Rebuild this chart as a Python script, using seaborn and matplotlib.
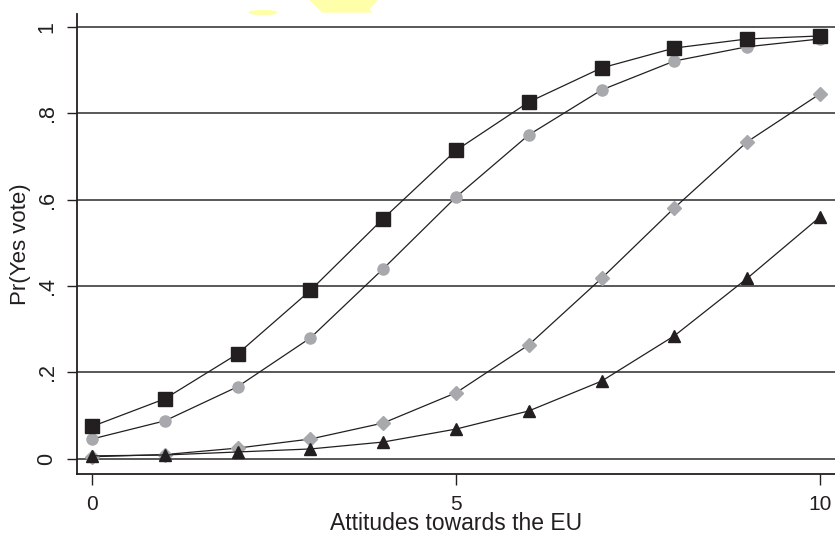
import numpy as np
import pandas as pd
import seaborn as sns
import matplotlib.pyplot as plt
from matplotlib.patches import Polygon, Ellipse

# attitude scale 0..10
attitude = list(range(11))

# predicted probabilities
p_square = [0.075, 0.139, 0.243, 0.390, 0.556, 0.714, 0.826, 0.905, 0.951, 0.972, 0.979]
p_circle = [0.046, 0.088, 0.167, 0.280, 0.440, 0.606, 0.750, 0.854, 0.921, 0.954, 0.972]
p_diamond = [0.005, 0.010, 0.025, 0.046, 0.083, 0.153, 0.264, 0.418, 0.581, 0.734, 0.845]
p_triangle = [0.007, 0.009, 0.016, 0.023, 0.039, 0.069, 0.111, 0.180, 0.285, 0.418, 0.560]

ytick_vals = [0, 0.2, 0.4, 0.6, 0.8, 1]
ytick_labels = ['0', '.2', '.4', '.6', '.8', '1']
xtick_vals = [0, 5, 10]

sns.set_style('white')
plt.rcParams['font.family'] = ['Liberation Sans', 'DejaVu Sans']

fig = plt.figure(figsize=(8.35, 5.35), dpi=100)
ax = fig.add_axes([0.0922, 0.114, 0.9078, 0.860])

black = '#231f20'
grey = '#a7a9ac'

for yv in ytick_vals:
    ax.axhline(yv, color='#3c3c3c', lw=1.2, zorder=1)

series = [
    (p_circle, 'o', grey, 8.0),
    (p_square, 's', black, 9.5),
    (p_diamond, 'D', grey, 7.5),
    (p_triangle, '^', black, 9.0),
]
z = 2
for vals, mk, col, ms in series:
    df = pd.DataFrame({'x': attitude, 'y': vals})
    sns.lineplot(data=df, x='x', y='y', ax=ax, color=black, lw=0.9, zorder=z)
    ax.plot(df['x'], df['y'], ls='none', marker=mk, ms=ms, mfc=col, mec=col, zorder=z + 0.5)
    z += 1

ax.set_xlim(-0.206, 10.206)
ax.set_ylim(-0.035, 1.03)
ax.set_xticks(xtick_vals)
ax.set_xticklabels([str(v) for v in xtick_vals], fontsize=15)
ax.set_yticks(ytick_vals)
ax.set_yticklabels(ytick_labels, fontsize=15.5, rotation=90, va='center')
ax.tick_params(axis='x', direction='out', length=8, width=1.0, color=black,
               bottom=True, pad=7)
ax.tick_params(axis='y', direction='out', length=7, width=1.0, color=black,
               left=True, pad=7)
ax.set_xlabel('Attitudes towards the EU', fontsize=16.5, color=black, labelpad=-1)
ax.set_ylabel('Pr(Yes vote)', fontsize=16, color=black, labelpad=4)
for lab in ax.get_xticklabels() + ax.get_yticklabels():
    lab.set_color(black)

for side in ['top', 'right']:
    ax.spines[side].set_visible(False)
for side in ['left', 'bottom']:
    ax.spines[side].set_color(black)
    ax.spines[side].set_linewidth(1.3)

# yellow highlighter marks at the top edge
W, H = 835, 535
trap = [(310, 0), (377, 0), (368, 10), (372, 12), (323, 12)]
fig.patches.append(Polygon([(x / W, 1 - y / H) for x, y in trap], closed=True,
                           transform=fig.transFigure, color='#ffffaa', zorder=0))
fig.patches.append(Ellipse((263 / W, 1 - 12.5 / H), 27 / W, 4 / H,
                           transform=fig.transFigure, color='#ffffaa', zorder=0))

fig.savefig('out.png', dpi=100)
